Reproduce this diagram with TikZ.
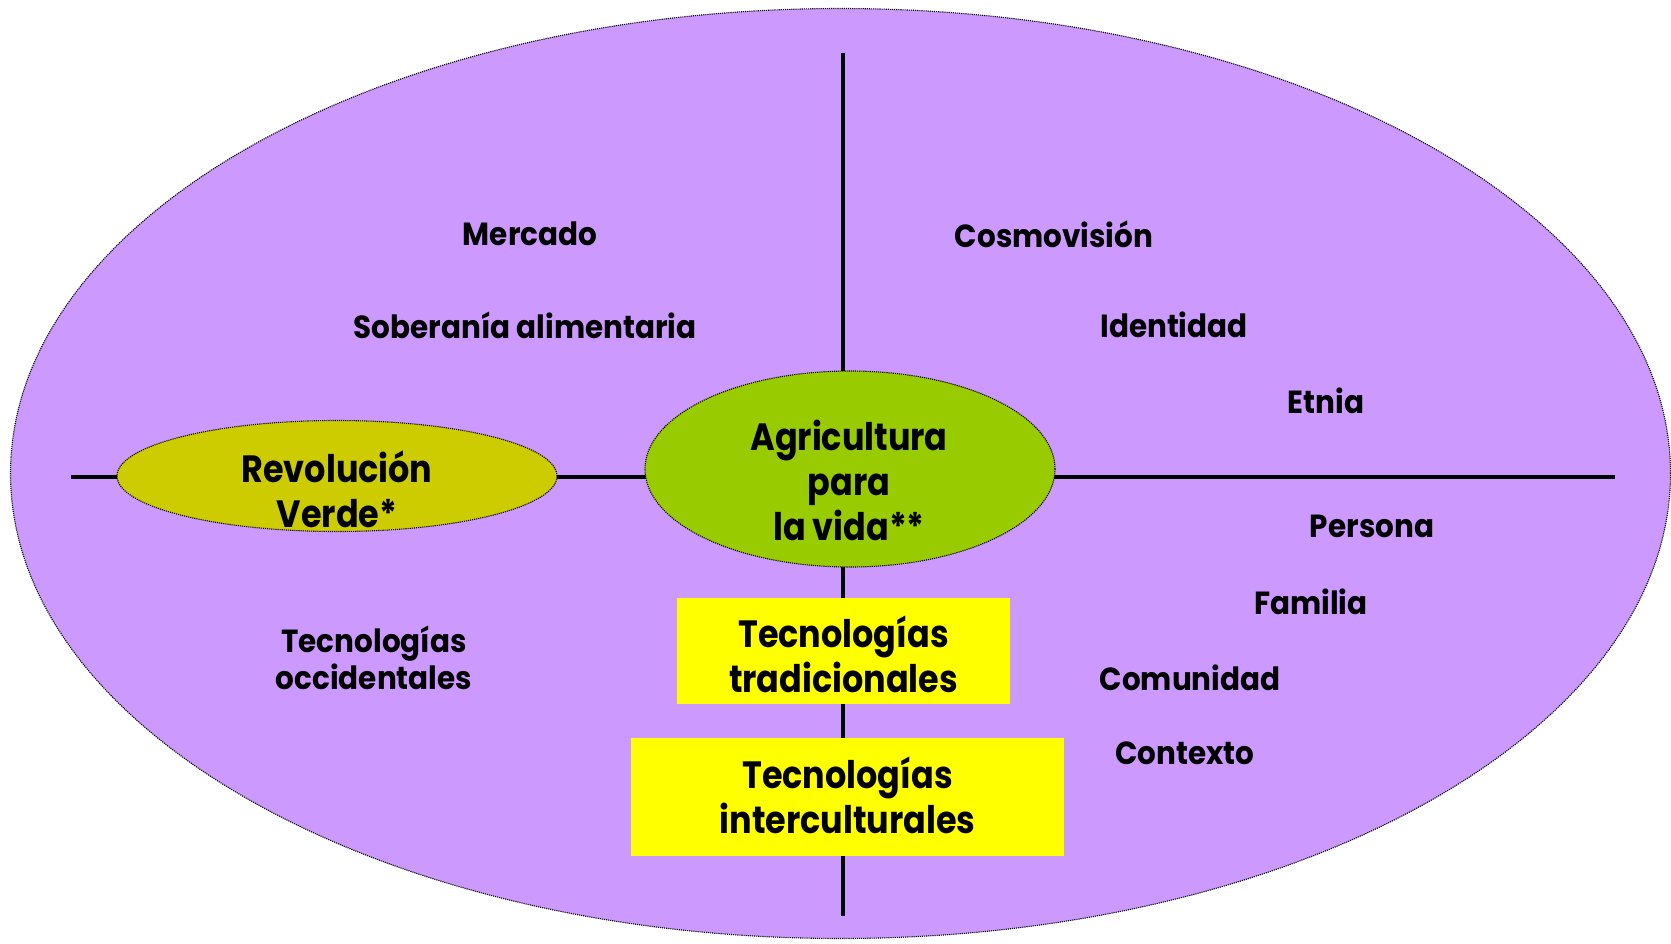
\documentclass[tikz,border=0pt]{standalone}
\usepackage{fontspec}
\setmainfont{Poppins}
\newfontfamily\popsmall{Poppins}[FakeStretch=0.92]
\newfontfamily\popbig{Poppins}[FakeStretch=0.88]
\usetikzlibrary{shapes.geometric}
\definecolor{lilac}{HTML}{CC99FF}
\definecolor{olivey}{HTML}{CCCC00}
\definecolor{leaf}{HTML}{99CC00}
\definecolor{yel}{HTML}{FFFF00}
\tikzset{
  oval/.style={ellipse, draw=black, densely dotted, line width=1.1pt, inner sep=0pt},
  axis/.style={line width=3.2pt, black},
  ybox/.style={rectangle, fill=yel, inner sep=0pt},
  small/.style={font=\popsmall\bfseries\fontsize{32}{38}\selectfont, align=center, inner sep=0pt},
  big/.style={font=\popbig\bfseries\fontsize{38}{45}\selectfont, align=center, inner sep=0pt},
}
\begin{document}
\begin{tikzpicture}[x=1pt,y=-1pt]
\useasboundingbox (0,0) rectangle (1671,943);
\node[oval, fill=lilac, minimum width=1660pt, minimum height=930pt] (outer) at (840.5,473.5) {};
\coordinate (T) at (843,53);
\coordinate (B) at (843,916);
\coordinate (L) at (71,477);
\coordinate (R) at (1615,477);
\draw[axis] (T) -- (B);
\draw[axis] (L) -- (R);
\node[oval, fill=olivey, minimum width=440pt, minimum height=111pt] (rev) at (337,476) {};
\node[oval, fill=leaf, minimum width=410pt, minimum height=196pt] (agri) at (850,469) {};
\node[ybox, minimum width=333pt, minimum height=106pt] (trad) at (843.5,651) {};
\node[ybox, minimum width=433pt, minimum height=118pt] (inter) at (847.5,797) {};
\node[big] (revt) at (337,489) {Revolución\\Verde*};
\node[big] (agrit) at (849,480) {Agricultura\\para\\la vida**};
\node[big] (tradt) at (843.5,654) {Tecnologías\\tradicionales};
\node[big] (intert) at (847.5,795) {Tecnologías\\interculturales};
\node[small] (merc) at (530,234) {Mercado};
\node[small] (sob) at (525,325) {Soberanía alimentaria};
\node[small] (cosmo) at (1054,234) {Cosmovisión};
\node[small] (ident) at (1174,325) {Identidad};
\node[small] (etnia) at (1326,401) {Etnia};
\node[small] (pers) at (1372,526) {Persona};
\node[small] (fam) at (1311,602) {Familia};
\node[small] (comu) at (1190,678) {Comunidad};
\node[small] (cont) at (1185,753) {Contexto};
\node[small, font=\popsmall\bfseries\fontsize{32}{37}\selectfont] (occ) at (374,658) {Tecnologías\\occidentales};
\end{tikzpicture}
\end{document}
